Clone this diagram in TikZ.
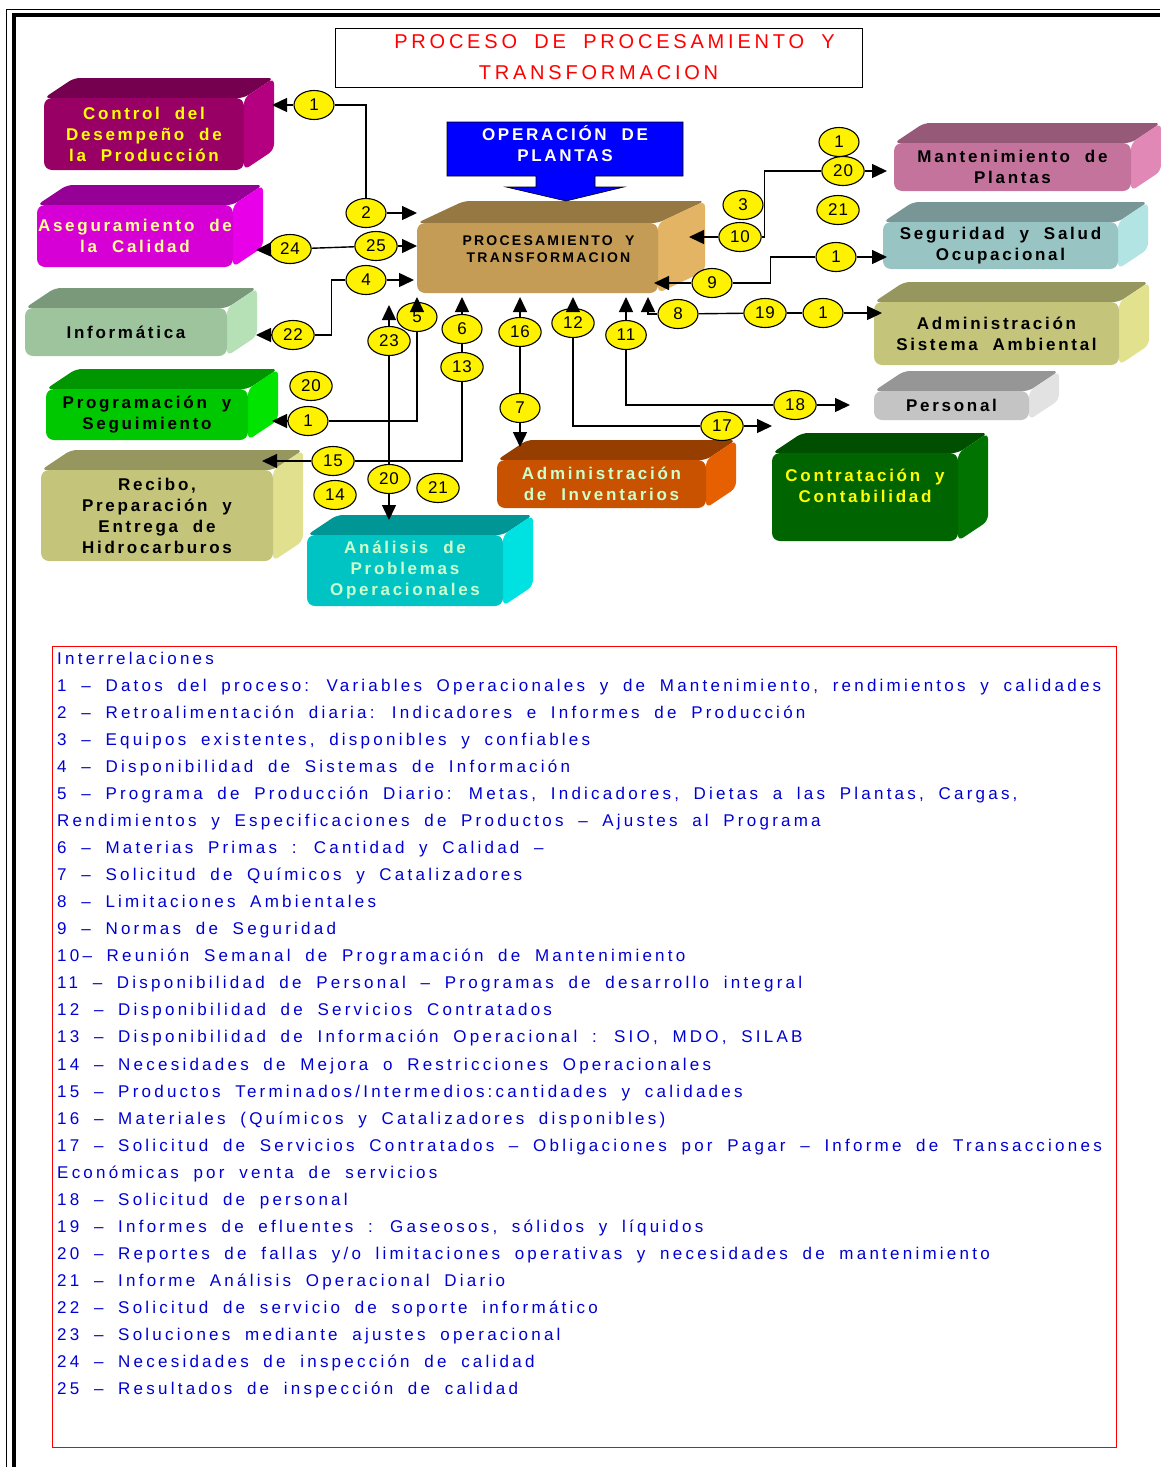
\documentclass[tikz,border=0pt]{standalone}
\usepackage{fontspec}
\setmainfont{Liberation Sans}
\newfontfamily\letra[LetterSpace=19, WordSpace=1.85]{Liberation Sans}
\newfontfamily\negra[LetterSpace=16, WordSpace=2.0]{Liberation Sans}
\newfontfamily\cifra[LetterSpace=6]{Liberation Sans}
\usetikzlibrary{arrows.meta,shapes.geometric,calc}

% colores de las cajas: F frente, T tapa, S lado
\definecolor{ctrlF}{RGB}{153,0,102}\definecolor{ctrlT}{RGB}{118,0,80}\definecolor{ctrlS}{RGB}{180,0,128}
\definecolor{asegF}{RGB}{214,0,214}\definecolor{asegT}{RGB}{150,0,150}\definecolor{asegS}{RGB}{232,0,232}
\definecolor{inforF}{RGB}{158,196,158}\definecolor{inforT}{RGB}{122,152,122}\definecolor{inforS}{RGB}{182,224,182}
\definecolor{progF}{RGB}{0,200,0}\definecolor{progT}{RGB}{0,150,0}\definecolor{progS}{RGB}{0,228,0}
\definecolor{recF}{RGB}{196,196,122}\definecolor{recT}{RGB}{150,150,95}\definecolor{recS}{RGB}{224,224,142}
\definecolor{anaF}{RGB}{0,196,196}\definecolor{anaT}{RGB}{0,150,150}\definecolor{anaS}{RGB}{0,226,226}
\definecolor{invF}{RGB}{200,82,0}\definecolor{invT}{RGB}{150,62,0}\definecolor{invS}{RGB}{230,95,0}
\definecolor{conF}{RGB}{0,100,0}\definecolor{conT}{RGB}{0,78,0}\definecolor{conS}{RGB}{0,115,0}
\definecolor{perF}{RGB}{196,196,196}\definecolor{perT}{RGB}{150,150,150}\definecolor{perS}{RGB}{226,226,226}
\definecolor{ambF}{RGB}{196,196,122}\definecolor{ambT}{RGB}{150,150,95}\definecolor{ambS}{RGB}{226,226,142}
\definecolor{segF}{RGB}{152,196,196}\definecolor{segT}{RGB}{120,150,150}\definecolor{segS}{RGB}{178,228,228}
\definecolor{manF}{RGB}{196,116,156}\definecolor{manT}{RGB}{150,90,120}\definecolor{manS}{RGB}{226,136,182}
\definecolor{procF}{RGB}{196,156,86}\definecolor{procT}{RGB}{150,120,66}\definecolor{procS}{RGB}{226,180,100}
\definecolor{amarillo}{RGB}{255,255,0}
\definecolor{amarclaro}{RGB}{255,255,150}
\definecolor{verdeclaro}{RGB}{204,255,204}
\definecolor{azullista}{RGB}{0,0,210}
\definecolor{azulop}{RGB}{0,0,255}

\tikzset{
  cara/.style={rectangle, rounded corners=8pt, inner sep=0pt},
  rotulo/.style={align=center, inner sep=0pt, font=\negra\bfseries\fontsize{17}{21}\selectfont},
  num/.style={ellipse, draw=black, line width=1.1pt, fill=yellow, minimum width=40pt, minimum height=29pt,
    inner xsep=5pt, inner ysep=1pt, font=\cifra\fontsize{17}{17}\selectfont},
  linea/.style={line width=1.4pt},
  flecha/.style={linea, -{Triangle[length=15pt,width=14pt]}},
  lista/.style={anchor=base west, inner sep=0pt, text=azullista, font=\letra\fontsize{17}{17}\selectfont},
}

% caja en relieve: nombre, centro, ancho, alto, fondo, color, opciones del texto, texto
\newcommand{\bloque}[8]{%
  \fill[#6T, rounded corners=6pt] ($(#2)+(-#3/2,-#4/2)$) -- ++(#5) -- ++(#3,0) -- ($(#2)+(#3/2,-#4/2)$) -- cycle;
  \fill[#6S, rounded corners=6pt] ($(#2)+(#3/2,-#4/2)$) -- ++(#5) -- ++(0,#4) -- ($(#2)+(#3/2,#4/2)$) -- cycle;
  \node[cara, fill=#6F, minimum width=#3pt, minimum height=#4pt] (#1) at (#2) {};
  \node[rotulo, #7] (#1-t) at (#1) {#8};
}

\begin{document}
\begin{tikzpicture}[x=1pt,y=-1pt]
\useasboundingbox (0,0) rectangle (1160,1467);
\fill[white] (0,0) rectangle (1160,1467);

% marco
\draw[line width=1pt] (6,1467) -- (6,9) -- (1160,9);
\draw[line width=4.5pt] (14,1467) -- (14,15) -- (1160,15);

% titulo
\node[draw=black, line width=1pt, minimum width=527pt, minimum height=59pt, inner sep=0pt,
  align=center, text=red, font=\letra\fontsize{20}{31}\selectfont] (titulo) at (598.5,57.5)
  {\hspace*{32pt}PROCESO DE PROCESAMIENTO Y\\TRANSFORMACION};

% cajas
\bloque{ctrl}{144,134}{200}{72}{30,-20}{ctrl}{text=amarillo}{Control del\\Desempeño de\\la Producción}
\bloque{aseg}{135,236}{196}{62}{30,-20}{aseg}{text=amarclaro}{Aseguramiento de\\la Calidad}
\bloque{infor}{126,332}{202}{48}{30,-20}{infor}{}{Informática}
\bloque{prog}{147,414.5}{202}{51}{30,-20}{prog}{}{Programación y\\Seguimiento}
\bloque{rec}{157,515.5}{232}{91}{30,-20}{rec}{}{Recibo,\\Preparación y\\Entrega de\\Hidrocarburos}
\bloque{ana}{405,570.5}{196}{71}{30,-20}{ana}{text=verdeclaro}{Análisis de\\Problemas\\Operacionales}
\bloque{inv}{601.5,484}{209}{48}{30,-20}{inv}{text=verdeclaro}{Administración\\de Inventarios}
\bloque{con}{865,497}{186}{88}{30,-20}{con}{text=amarillo, yshift=11pt}{Contratación y\\Contabilidad}
\bloque{per}{951.5,405.5}{155}{29}{30,-20}{per}{}{Personal}
\bloque{amb}{996.5,333.5}{245}{63}{30,-20}{amb}{}{Administración\\Sistema Ambiental}
\bloque{seg}{1000.5,245.5}{235}{47}{30,-20}{seg}{}{Seguridad y Salud\\Ocupacional}
\bloque{man}{1012.5,167}{237}{48}{30,-20}{man}{}{Mantenimiento de\\Plantas}
\bloque{proc}{537.5,258}{241}{70}{47,-22}{proc}{font=\negra\bfseries\fontsize{14}{17}\selectfont, xshift=11pt, yshift=9pt}{PROCESAMIENTO Y\\TRANSFORMACION}

% flecha de operacion de plantas
\filldraw[fill=azulop, draw=black, line width=0.6pt] (447,122) -- (683,122) -- (683,176) -- (595,176)
  -- (595,187) -- (624,187) -- (566,201) -- (506,187) -- (536,187) -- (536,176) -- (447,176) -- cycle;
\node[rotulo, text=white] (oper) at (565,144) {OPERACIÓN DE\\PLANTAS};

% numeros
\foreach \n/\x/\y/\t in {1a/314/105/1, 2/366/213/2, 25/376/246/25, 24/290/249/24, 4/366/280/4,
    22/293/335/22, 5/417/317/5, 23/389/341/23, 1b/308/421/1, 20a/311/386/20, 6/462/329/6,
    13/462/367/13, 16/520/332/16, 7/520/408/7, 12/573/323/12, 11/626/335/11, 8/678/314/8,
    19/765/313/19, 1c/823/313/1, 17/722/426/17, 18/795/405/18, 15/333/461/15, 14/335/495/14,
    20b/389/479/20, 21b/438/488/21, 3/743/205/3, 10/740/237/10, 20c/843/171/20, 1d/839/142/1,
    21c/838/210/21, 9/712/283/9, 1e/836/257/1}
  \node[num] (e\n) at (\x,\y) {\t};

% puntas libres
\coordinate (tope) at (0,297);
\foreach \n/\x/\y in {a1a/272/105, a2/417/213, a25/417/246, a24/256/250, a4/414/280, a22/256/335,
    a1b/272/421, a23/389/305, a20b/389/520, a15/262/461, a7/520/447, a17/772/426, a18/850/405,
    a8/648/297, a1c/882/313, a10/689/237, a20c/887/171, a9/654/283, a1e/887/257}
  \coordinate (\n) at (\x,\y);

% conectores
\draw[flecha] (e1a) -- (a1a);
\draw[linea] (e1a) -| (e2);
\draw[flecha] (e2) -- (a2);
\draw[flecha] (e25) -- (a25);
\draw[linea] (e24) -- (e25);
\draw[flecha] (e24) -- (a24);
\draw[flecha] (e4) -- (a4);
\draw[linea] (e4.west) -- ++(-14,0) |- (e22);
\draw[flecha] (e22) -- (a22);
\draw[flecha] (e5) -- (e5 |- tope);
\draw[linea] (e5) |- (e1b);
\draw[flecha] (e1b) -- (a1b);
\draw[flecha] (e23) -- (a23);
\draw[linea] (e23) -- (e20b);
\draw[flecha] (e20b) -- (a20b);
\draw[flecha] (e6) -- (e6 |- tope);
\draw[linea] (e6) -- (e13);
\draw[linea] (e13) |- (e15);
\draw[flecha] (e15) -- (a15);
\draw[flecha] (e16) -- (e16 |- tope);
\draw[linea] (e16) -- (e7);
\draw[flecha] (e7) -- (a7);
\draw[flecha] (e12) -- (e12 |- tope);
\draw[linea] (e12) |- (e17);
\draw[flecha] (e17) -- (a17);
\draw[flecha] (e11) -- (e11 |- tope);
\draw[linea] (e11) |- (e18);
\draw[flecha] (e18) -- (a18);
\draw[flecha] (e8) -| (a8);
\draw[linea] (e8) -- (e19);
\draw[linea] (e19) -- (e1c);
\draw[flecha] (e1c) -- (a1c);
\draw[flecha] (e10) -- (a10);
\draw[linea] (e10.east) -- ++(3,0) |- (e20c);
\draw[flecha] (e20c) -- (a20c);
\draw[flecha] (e9) -- (a9);
\draw[linea] (e9.east) -- ++(38,0) |- (e1e);
\draw[flecha] (e1e) -- (a1e);

% interrelaciones
\draw[red, line width=1pt] (52,646) rectangle (1116,1447);
\foreach \t [count=\k from 0] in {Interrelaciones,
  {1 – Datos del proceso: Variables Operacionales y de Mantenimiento, rendimientos y calidades},
  {2 – Retroalimentación diaria: Indicadores e Informes de Producción},
  {3 – Equipos existentes, disponibles y confiables},
  {4 – Disponibilidad de Sistemas de Información},
  {5 – Programa de Producción Diario: Metas, Indicadores, Dietas a las Plantas, Cargas,},
  {Rendimientos y Especificaciones de Productos – Ajustes al Programa},
  {6 – Materias Primas : Cantidad y Calidad –},
  {7 – Solicitud de Químicos y Catalizadores},
  {8 – Limitaciones Ambientales},
  {9 – Normas de Seguridad},
  {10– Reunión Semanal de Programación de Mantenimiento},
  {11 – Disponibilidad de Personal – Programas de desarrollo integral},
  {12 – Disponibilidad de Servicios Contratados},
  {13 – Disponibilidad de Información Operacional : SIO, MDO, SILAB},
  {14 – Necesidades de Mejora o Restricciones Operacionales},
  {15 – Productos Terminados/Intermedios:cantidades y calidades},
  {16 – Materiales (Químicos y Catalizadores disponibles)},
  {17 – Solicitud de Servicios Contratados – Obligaciones por Pagar – Informe de Transacciones},
  {Económicas por venta de servicios},
  {18 – Solicitud de personal},
  {19 – Informes de efluentes : Gaseosos, sólidos y líquidos},
  {20 – Reportes de fallas y/o limitaciones operativas y necesidades de mantenimiento},
  {21 – Informe Análisis Operacional Diario},
  {22 – Solicitud de servicio de soporte informático},
  {23 – Soluciones mediante ajustes operacional},
  {24 – Necesidades de inspección de calidad},
  {25 – Resultados de inspección de calidad}}
  \node[lista] (l\k) at (57,{664+27.07*\k}) {\t};

\end{tikzpicture}
\end{document}
